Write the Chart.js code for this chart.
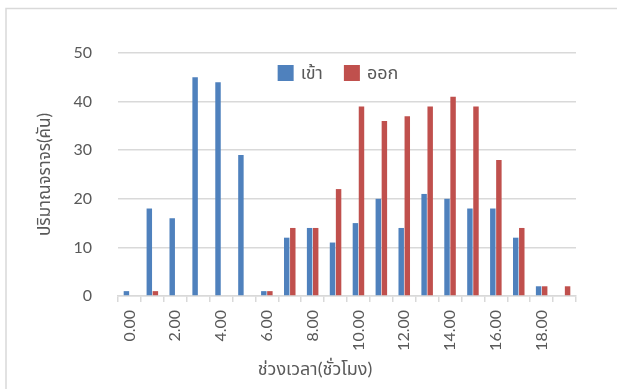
<!DOCTYPE html>
<html>
<head>
<meta charset="utf-8">
<script src="https://cdn.jsdelivr.net/npm/chart.js@4/dist/chart.umd.min.js"></script>
<style>
  html, body { margin: 0; padding: 0; background: #ffffff; }
  #wrap { position: relative; width: 617px; height: 389px; }
</style>
</head>
<body>
<div id="wrap"><canvas id="c" width="617" height="389"></canvas></div>
<script>
// Hourly traffic counts (vehicles) entering and leaving
const hours = ['0.00','1.00','2.00','3.00','4.00','5.00','6.00','7.00','8.00','9.00',
               '10.00','11.00','12.00','13.00','14.00','15.00','16.00','17.00','18.00','19.00'];
const inbound  = [1, 18, 16, 45, 44, 29, 1, 12, 14, 11, 15, 20, 14, 21, 20, 18, 18, 12, 2, 0];
const outbound = [0, 1, 0, 0, 0, 0, 1, 14, 14, 22, 39, 36, 37, 39, 41, 39, 28, 14, 2, 2];
const yTicks = [0, 10, 20, 30, 40, 50];

const seriesNames = ['เข้า', 'ออก'];
const xTitle = 'ช่วงเวลา(ชั่วโมง)';
const yTitle = 'ปริมาณจราจร(คัน)';

const FONT = "Lato, 'Noto Sans Thai', 'Noto Sans', sans-serif";
const TEXT = '#595959';
const GRID = '#d9d9d9';

// light frame, a horizontal legend floating inside the plot, and the x-axis title
const framePlugin = {
  id: 'frame',
  beforeDraw(chart) {
    const ctx = chart.ctx;
    ctx.save();
    ctx.fillStyle = '#ffffff';
    ctx.fillRect(0, 0, chart.width, chart.height);
    ctx.strokeStyle = GRID;
    ctx.lineWidth = 1.5;
    ctx.strokeRect(6, 8.5, 900, 900);
    ctx.restore();
  },
  afterDraw(chart) {
    const ctx = chart.ctx;
    const a = chart.chartArea;
    const cx = (a.left + a.right) / 2;
    ctx.save();
    ctx.fillStyle = TEXT;
    ctx.textBaseline = 'middle';

    // x-axis title
    ctx.font = '18px ' + FONT;
    ctx.textAlign = 'center';
    ctx.fillText(xTitle, cx - 32, 369);

    // legend
    ctx.font = '18px ' + FONT;
    ctx.textAlign = 'left';
    const box = 16, gap = 7, spacing = 21;
    const items = chart.data.datasets.map(d => ({
      label: d.label, color: d.backgroundColor, w: box + gap + ctx.measureText(d.label).width
    }));
    const total = items.reduce((s, it) => s + it.w, 0) + spacing * (items.length - 1);
    let x = cx - 9 - total / 2;
    const top = a.top + 12;
    items.forEach(it => {
      ctx.fillStyle = it.color;
      ctx.fillRect(x, top, box, box);
      ctx.fillStyle = TEXT;
      ctx.fillText(it.label, x + box + gap, top + box / 2);
      x += it.w + spacing;
    });
    ctx.restore();
  }
};

new Chart(document.getElementById('c'), {
  type: 'bar',
  data: {
    labels: hours,
    datasets: [
      { label: seriesNames[0], data: inbound,  backgroundColor: '#4F81BD', borderWidth: 0 },
      { label: seriesNames[1], data: outbound, backgroundColor: '#C0504D', borderWidth: 0 }
    ]
  },
  options: {
    responsive: false,
    animation: false,
    categoryPercentage: 0.53,
    barPercentage: 0.9,
    layout: { padding: { left: 0, right: 41, top: 53, bottom: 0 } },
    plugins: {
      tooltip: { enabled: false },
      legend: { display: false }
    },
    scales: {
      x: {
        afterFit(s) { s.height = 93; },
        grid: {
          offset: true, drawOnChartArea: false, drawTicks: true,
          tickLength: 6, color: GRID, lineWidth: 1.5
        },
        border: { display: true, color: GRID, width: 1.5 },
        ticks: {
          autoSkip: false, minRotation: 90, maxRotation: 90, padding: 8,
          color: TEXT, font: { family: FONT, size: 16 },
          callback(v, i) { return i % 2 === 0 ? hours[i] : ''; }
        }
      },
      y: {
        min: yTicks[0], max: yTicks[yTicks.length - 1],
        afterFit(s) { s.width = 118; },
        afterBuildTicks(s) { s.ticks = yTicks.map(v => ({ value: v })); },
        grid: { drawTicks: false, color: GRID, lineWidth: 1.5 },
        border: { display: false },
        ticks: { padding: 26, color: TEXT, font: { family: FONT, size: 16 } },
        title: {
          display: true, text: yTitle, color: TEXT,
          font: { family: FONT, size: 17 }, padding: { top: 34, bottom: 0 }
        }
      }
    }
  },
  plugins: [framePlugin]
});
</script>
</body>
</html>
